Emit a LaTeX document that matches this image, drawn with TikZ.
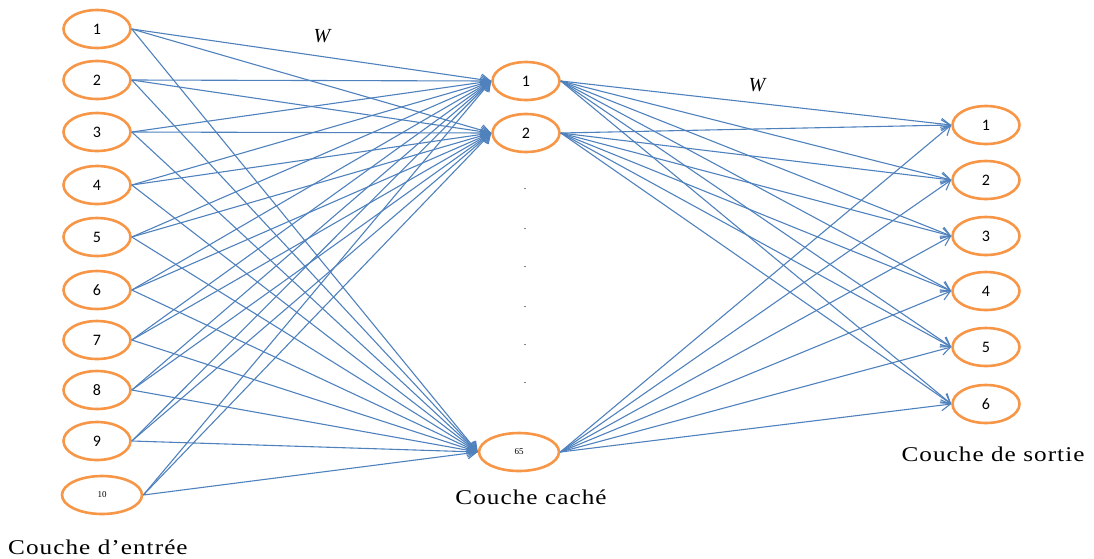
\documentclass[tikz,border=0pt]{standalone}
\usepackage{fontspec}
\setmainfont{Liberation Serif}
\newfontfamily\numfont{Carlito}
\newfontfamily\lblfont[FakeStretch=1.2,LetterSpace=5]{Liberation Serif}
\usetikzlibrary{shapes.geometric,arrows.meta}
\definecolor{nodeor}{HTML}{F79646}
\definecolor{linkbl}{HTML}{4F81BD}
\begin{document}
\begin{tikzpicture}[x=1pt,y=-1pt,
  neuron/.style={ellipse,draw=nodeor,line width=2.6pt,fill=white,minimum width=67pt,minimum height=38pt,inner sep=0pt,font=\numfont\fontsize{16}{16}\selectfont},
  bigneuron/.style={neuron,minimum width=80pt,font=\fontsize{9}{9}\selectfont},
  link/.style={draw=linkbl,line width=1.1pt,-{Straight Barb[length=9pt,width=11pt,line width=1.1pt]}},
  lbl/.style={font=\lblfont\fontsize{21}{21}\selectfont,inner sep=0pt},
  wlbl/.style={font=\itshape\fontsize{20}{20}\selectfont,inner sep=0pt},
  dotn/.style={inner sep=0pt,font=\fontsize{10}{10}\selectfont}]
\useasboundingbox (0,0) rectangle (1094,558);
% input layer
\node[neuron] (in1) at (97,29) {1};
\node[neuron] (in2) at (97,80) {2};
\node[neuron] (in3) at (97,132) {3};
\node[neuron] (in4) at (97,185) {4};
\node[neuron] (in5) at (97,237) {5};
\node[neuron] (in6) at (97,290) {6};
\node[neuron] (in7) at (97,340) {7};
\node[neuron] (in8) at (97,390) {8};
\node[neuron] (in9) at (97,441) {9};
\node[bigneuron] (in10) at (102,495) {10};
% hidden layer
\node[neuron] (h1) at (526,81) {1};
\node[neuron] (h2) at (526,133) {2};
\node[bigneuron] (h65) at (519,452) {65};
\foreach \y/\n in {189/d1,229/d2,267/d3,307/d4,345/d5,383/d6}
  \node[dotn] (\n) at (525,\y) {.};
% output layer
\node[neuron] (o1) at (986,125) {1};
\node[neuron] (o2) at (986,180) {2};
\node[neuron] (o3) at (986,236) {3};
\node[neuron] (o4) at (986,291) {4};
\node[neuron] (o5) at (986,347) {5};
\node[neuron] (o6) at (986,404) {6};
% connections
\foreach \i in {1,...,10}
  \foreach \h in {h1,h2,h65}
    \draw[link] (in\i.east) -- (\h.west);
\foreach \h in {h1,h2,h65}
  \foreach \o in {1,...,6}
    \draw[link] (\h.east) -- (o\o.west);
% labels
\node[wlbl] (w1) at (322,36) {W};
\node[wlbl] (w2) at (757,85) {W};
\node[lbl,anchor=west] (lin) at (8,547) {Couche d’entrée};
\node[lbl] (lhid) at (531,497) {Couche caché};
\node[lbl] (lout) at (993,454) {Couche de sortie};
\end{tikzpicture}
\end{document}
